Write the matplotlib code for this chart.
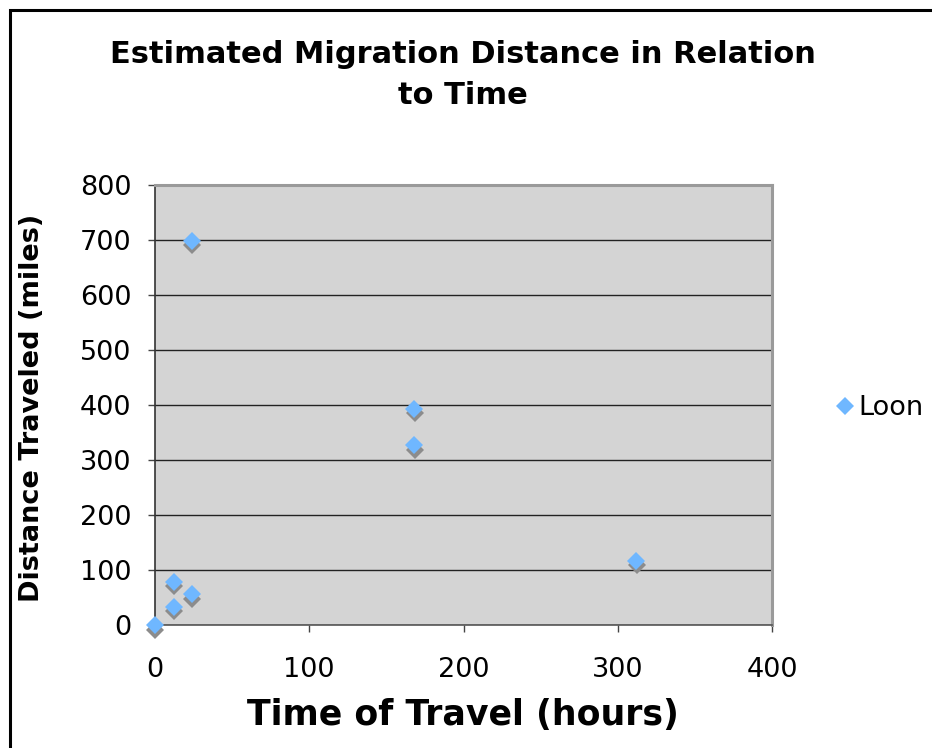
import matplotlib
matplotlib.use("Agg")
import matplotlib.pyplot as plt
import matplotlib.transforms as mtransforms
from matplotlib.lines import Line2D
from matplotlib.patches import Rectangle

# Data
hours = [0, 12, 12, 24, 24, 168, 168, 312]
miles = [0, 79, 33, 56, 699, 393, 327, 117]
series_name = "Loon"
title = "Estimated Migration Distance in Relation\nto Time"
xlabel = "Time of Travel (hours)"
ylabel = "Distance Traveled (miles)"
xticks = [0, 100, 200, 300, 400]
yticks = [0, 100, 200, 300, 400, 500, 600, 700, 800]

plt.rcParams['font.family'] = ['DejaVu Sans']

fig = plt.figure(figsize=(9.32, 7.48), dpi=100)
fig.patch.set_facecolor('white')

# chart border (extends beyond right and bottom)
fig.add_artist(Rectangle((10/932, -0.1), 1.2, 1 - 10/748 + 0.1, transform=fig.transFigure,
                         fill=False, edgecolor='black', linewidth=2.2))

ax = fig.add_axes([155/932, 1 - 625/748, 617/932, 440/748])
ax.set_facecolor('#d4d4d4')
ax.set_xlim(0, 400)
ax.set_ylim(0, 800)
ax.set_xticks(xticks)
ax.set_yticks(yticks)
ax.yaxis.grid(True, color='#222222', linewidth=1.0)
ax.set_axisbelow(True)

for s in ['top', 'right']:
    ax.spines[s].set_color('#9a9a9a')
    ax.spines[s].set_linewidth(2.2)
ax.spines['left'].set_color('#333333')
ax.spines['bottom'].set_color('#555555')
ax.spines['left'].set_linewidth(1.2)
ax.spines['bottom'].set_linewidth(1.2)

ax.tick_params(axis='both', direction='out', length=5, width=1.0, color='#444444',
               labelsize=19.5, pad=12)
ax.tick_params(axis='x', pad=18)

# shadow
shadow_tr = mtransforms.offset_copy(ax.transData, fig=fig, x=0.3, y=-3.3, units='points')
ax.plot(hours, miles, linestyle='none', marker='D', markersize=9, color='#8c8c8c',
        markeredgewidth=0, transform=shadow_tr, clip_on=False, zorder=3)
ax.plot(hours, miles, linestyle='none', marker='D', markersize=9, color='#6fb7ff',
        markeredgewidth=0, clip_on=False, zorder=4, label=series_name)

fig.text(463/932, 1 - 75/748, title, ha='center', va='center', fontsize=22,
         fontweight='bold', linespacing=1.55)
fig.text(463/932, 1 - 715/748, xlabel, ha='center', va='center', fontsize=25, fontweight='bold')
fig.text(32/932, 1 - 408/748, ylabel, ha='center', va='center', fontsize=19.5,
         fontweight='bold', rotation=90)

fig.legend(handles=[Line2D([], [], linestyle='none', marker='D', markersize=9,
                           color='#6fb7ff', markeredgewidth=0)],
           labels=[series_name], loc='center left', bbox_to_anchor=(834/932, 1 - 408/748),
           frameon=False, fontsize=19.5, handlelength=0.8, handletextpad=0.1, borderpad=0,
           borderaxespad=0)

fig.savefig('out.png', dpi=100, facecolor='white')
